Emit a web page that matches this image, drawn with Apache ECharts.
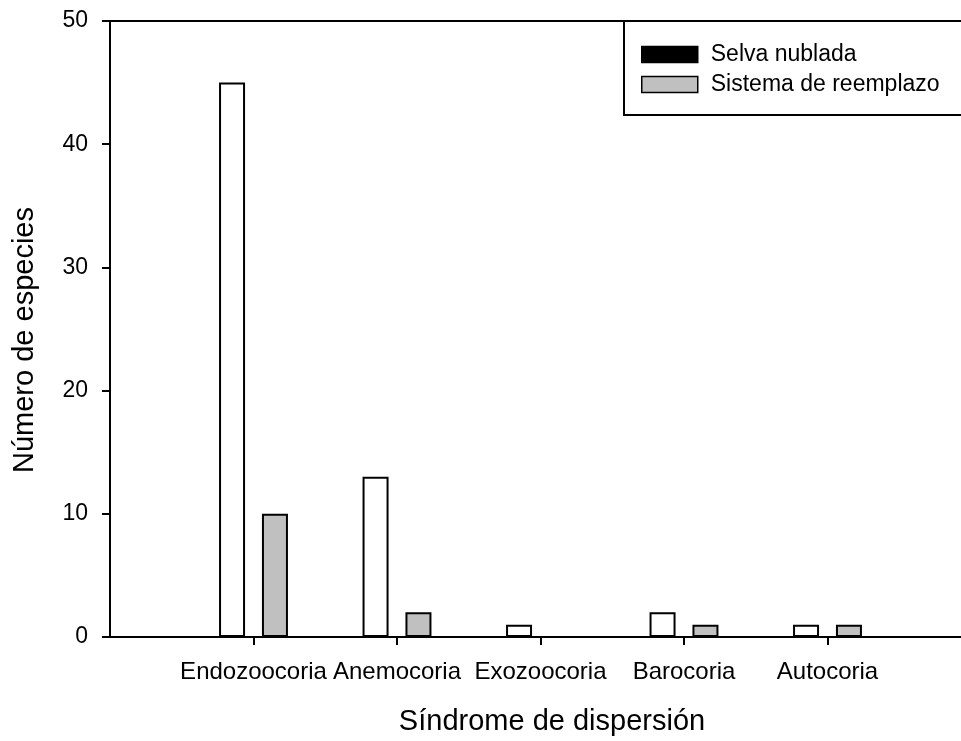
<!DOCTYPE html>
<html>
<head>
<meta charset="utf-8">
<script src="https://cdn.jsdelivr.net/npm/echarts@6/dist/echarts.min.js"></script>
<style>
  html, body { margin: 0; padding: 0; background: #fff; overflow: hidden; }
  #chart { width: 961px; height: 741px; }
</style>
</head>
<body>
<div id="chart"></div>
<script>
// Dispersal syndromes: species counts per habitat
const categories = ['Endozoocoria', 'Anemocoria', 'Exozoocoria', 'Barocoria', 'Autocoria'];
const selvaNublada = [45, 13, 1, 2, 1];
const sistemaReemplazo = [10, 2, 0, 1, 1];
const seriesNames = ['Selva nublada', 'Sistema de reemplazo'];
const yTicks = [0, 10, 20, 30, 40, 50];

const FONT = '"Liberation Sans", Arial, Helvetica, sans-serif';

// Padding slots at both ends so categories sit at 1..5 on a 0..6 axis
const axisData = [''].concat(categories, ['']);
const pad = (arr) => ['-'].concat(arr, ['-']);

const chart = echarts.init(document.getElementById('chart'), null, { renderer: 'canvas' });

chart.setOption({
  animation: false,
  backgroundColor: '#fff',
  grid: {
    left: 110, top: 21, width: 861, height: 616,
    outerBoundsMode: 'none',
    containLabel: false,
    show: true, borderColor: '#000', borderWidth: 2, backgroundColor: 'transparent'
  },
  legend: {
    orient: 'vertical',
    left: 624, top: 21,
    padding: [22, 40, 19, 17],
    itemGap: 7,
    itemWidth: 56, itemHeight: 16,
    borderColor: '#000', borderWidth: 2,
    backgroundColor: '#fff',
    icon: 'rect',
    textStyle: { fontFamily: FONT, fontSize: 23, color: '#000', padding: [0, 0, 0, 8] },
    data: [
      { name: seriesNames[0], itemStyle: { color: '#000', borderColor: '#000', borderWidth: 1.5 } },
      { name: seriesNames[1], itemStyle: { color: '#c0c0c0', borderColor: '#000', borderWidth: 1.5 } }
    ]
  },
  xAxis: {
    type: 'category',
    data: axisData,
    boundaryGap: false,
    name: 'Síndrome de dispersión',
    nameLocation: 'middle',
    nameGap: 70,
    nameTextStyle: { fontFamily: FONT, fontSize: 29, color: '#000', padding: [0, 0, 0, 23] },
    axisLine: { show: true, lineStyle: { color: '#000', width: 2 } },
    axisTick: {
      show: true, inside: false, length: 8,
      interval: (i) => i > 0 && i < axisData.length - 1,
      lineStyle: { color: '#000', width: 2 }
    },
    axisLabel: { interval: 0, margin: 23, fontFamily: FONT, fontSize: 24, color: '#000' },
    splitLine: { show: false }
  },
  yAxis: {
    type: 'value',
    min: yTicks[0], max: yTicks[yTicks.length - 1], interval: 10,
    name: 'Número de especies',
    nameLocation: 'middle',
    nameRotate: 90,
    nameGap: 71,
    nameTextStyle: { fontFamily: FONT, fontSize: 29, color: '#000', padding: [0, 22, 0, 0] },
    axisLine: { show: true, lineStyle: { color: '#000', width: 2 } },
    axisTick: { show: true, inside: false, length: 8, lineStyle: { color: '#000', width: 2 } },
    axisLabel: { margin: 22, fontFamily: FONT, fontSize: 23, color: '#000' },
    splitLine: { show: false }
  },
  series: [
    {
      name: seriesNames[0],
      type: 'bar',
      data: pad(selvaNublada),
      barWidth: 26,
      barGap: '65%',
      itemStyle: { color: '#fff', borderColor: '#000', borderWidth: 2 }
    },
    {
      name: seriesNames[1],
      type: 'bar',
      data: pad(sistemaReemplazo),
      barWidth: 26,
      barGap: '65%',
      itemStyle: { color: '#c0c0c0', borderColor: '#000', borderWidth: 2 }
    }
  ]
});
</script>
</body>
</html>
